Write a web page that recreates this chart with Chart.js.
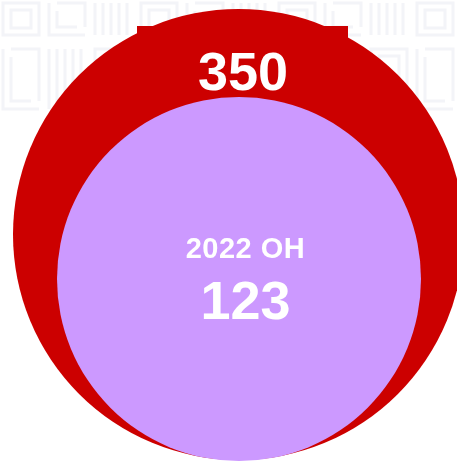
<!DOCTYPE html>
<html>
<head>
<meta charset="utf-8">
<script src="https://cdn.jsdelivr.net/npm/chart.js@4.4.1/dist/chart.umd.min.js"></script>
<style>
  html, body { margin: 0; padding: 0; background: #ffffff; }
  #wrap { width: 457px; height: 461px; position: relative; }
</style>
</head>
<body>
<div id="wrap"><canvas id="c"></canvas></div>
<script>
// ---- data ----
const categories = ['', '2022 OH'];
const values = [350, 123];
const colors = ['#cc0000', '#cc99ff'];

// ---- layout (pixels in chart space) ----
const bubbleX = [238.5, 239];
const bubbleY = [234.5, 279];
const bubbleR = [225.5, 182];

const bgPattern = {
  id: 'bgPattern',
  beforeDraw(chart) {
    const ctx = chart.ctx;
    ctx.save();
    ctx.strokeStyle = '#f3f4f8';
    ctx.lineWidth = 3;
    const rows = [[0, 38], [46, 112]];
    rows.forEach(([y0, y1], ri) => {
      for (let x = 0; x < 457; x += 46) {
        const w = 42, h = y1 - y0;
        const k = Math.round(x / 46 + ri) % 3;
        ctx.beginPath();
        if (k === 0) {
          ctx.rect(x + 3, y0 + 3, w - 6, h - 6);
          ctx.rect(x + 11, y0 + 10, w - 22, h - 20);
        } else if (k === 1) {
          ctx.moveTo(x + 3, y0 + 3); ctx.lineTo(x + 3, y1 - 3); ctx.lineTo(x + w - 3, y1 - 3);
          ctx.moveTo(x + 11, y0 + 3); ctx.lineTo(x + w - 3, y0 + 3); ctx.lineTo(x + w - 3, y1 - 11);
          ctx.moveTo(x + 11, y0 + 11); ctx.lineTo(x + 11, y1 - 11); ctx.lineTo(x + w - 11, y1 - 11);
        } else {
          ctx.moveTo(x + 3, y0 + 3); ctx.lineTo(x + 3, y1 - 3);
          ctx.moveTo(x + 11, y0 + 3); ctx.lineTo(x + 11, y1 - 3);
          ctx.moveTo(x + 19, y0 + 3); ctx.lineTo(x + 19, y1 - 3);
          ctx.moveTo(x + 27, y0 + 3); ctx.lineTo(x + 27, y1 - 3);
          ctx.moveTo(x + 35, y0 + 3); ctx.lineTo(x + 35, y1 - 3);
        }
        ctx.stroke();
      }
    });
    ctx.restore();
  }
};

const labelPlugin = {
  id: 'labels',
  afterDatasetDraw(chart, args) {
    const ctx = chart.ctx;
    const i = args.index;
    const el = chart.getDatasetMeta(i).data[0];
    ctx.save();
    ctx.fillStyle = '#ffffff';
    ctx.textAlign = 'center';
    ctx.textBaseline = 'alphabetic';
    if (i === 0) {
      // label box at the top of the outer bubble
      ctx.fillStyle = colors[0];
      ctx.fillRect(el.x - 101.5, el.y - el.options.radius + 17, 211, 60);
      ctx.fillStyle = '#ffffff';
      ctx.font = 'bold 54px "Liberation Sans", Arial, sans-serif';
      ctx.fillText(String(values[0]), el.x + 4.5, el.y - 144.5);
    } else {
      ctx.font = 'bold 29px "Liberation Sans", Arial, sans-serif';
      if ('letterSpacing' in ctx) ctx.letterSpacing = '0.5px';
      ctx.fillText(categories[1], el.x + 6.5, el.y - 21);
      if ('letterSpacing' in ctx) ctx.letterSpacing = '0px';
      ctx.font = 'bold 54px "Liberation Sans", Arial, sans-serif';
      ctx.fillText(String(values[1]), el.x + 6.5, el.y + 40);
    }
    ctx.restore();
  }
};

new Chart(document.getElementById('c'), {
  type: 'bubble',
  data: {
    datasets: values.map((v, i) => ({
      label: categories[i] || String(v),
      data: [{ x: bubbleX[i], y: bubbleY[i], r: bubbleR[i] }],
      backgroundColor: colors[i],
      borderWidth: 0,
      hoverBorderWidth: 0,
      hoverRadius: 0,
      order: i === 0 ? 2 : 1,
      clip: false
    }))
  },
  options: {
    responsive: true,
    maintainAspectRatio: false,
    animation: false,
    events: [],
    layout: { padding: 0, autoPadding: false },
    plugins: { legend: { display: false }, tooltip: { enabled: false } },
    scales: {
      x: { type: 'linear', min: 0, max: 457, display: false },
      y: { type: 'linear', min: 0, max: 461, reverse: true, display: false }
    }
  },
  plugins: [bgPattern, labelPlugin]
});
</script>
</body>
</html>
